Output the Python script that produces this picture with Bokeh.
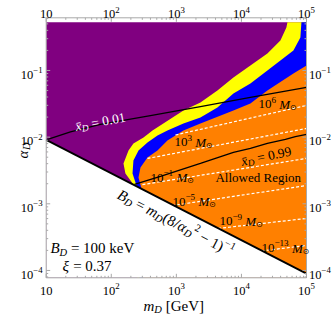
import math
from bokeh.plotting import figure
from bokeh.models import Label
from bokeh.embed import file_html
from bokeh.resources import INLINE

# ---------------- data ----------------
X_TICKS = [10, 100, 1000, 10000, 100000]
X_TICK_EXP = ["", "2", "3", "4", "5"]
Y_TICKS = [1e-4, 1e-3, 1e-2, 1e-1]
Y_TICK_EXP = ["\u22124", "\u22123", "\u22122", "\u22121"]

XMIN, XMAX = 10, 1e5
YMIN, YMAX = 7.76e-5, 0.617
FILL_TOP = 0.53

# B_D line (boundary of the white region)
BD_M = [10, 100000]
BD_A = [0.0091, 0.0000895]

# purple / yellow boundary
PY_M = [252, 219, 165, 154, 184, 219, 313, 430, 1285, 2344, 4276, 7534, 25060, 39720, 49090, 50930]
PY_A = [0.00158, 0.00195, 0.00285, 0.00403, 0.00631, 0.00804, 0.00989, 0.0126, 0.0251, 0.0331,
        0.0501, 0.0785, 0.180, 0.282, 0.442, 0.53]
# yellow / blue boundary
YB_M = [271, 244, 212, 219, 262, 360, 513, 729, 1285, 2344, 4276, 7534, 13740, 25060, 62950, 80540, 83560]
YB_A = [0.00158, 0.00188, 0.00285, 0.00447, 0.00631, 0.00832, 0.0106, 0.0126, 0.0160, 0.0197,
        0.0279, 0.0452, 0.0638, 0.100, 0.200, 0.313, 0.53]
# blue / orange boundary
BO_M = [313, 291, 262, 281, 360, 513, 729, 1285, 2344, 7534, 13740, 25060, 62950, 100000]
BO_A = [0.00148, 0.0017, 0.00248, 0.00351, 0.00495, 0.00631, 0.00891, 0.0126, 0.0160, 0.0251,
        0.0320, 0.0501, 0.0902, 0.119]

# xbar_D = 0.01 contour
X01_M = [10, 23.6, 68.2, 400, 2344, 13740, 100000]
X01_A = [0.0091, 0.01196, 0.0155, 0.0211, 0.0288, 0.0394, 0.0556]
# xbar_D = 0.99 contour
X99_M = [227, 570, 2344, 7534, 13740, 25060, 47400, 67400, 100000]
X99_A = [0.00195, 0.00257, 0.00403, 0.00589, 0.00676, 0.00804, 0.00923, 0.0102, 0.0110]

# mass contours (white dashed), exponents of M_sun
MASS_EXP = ["6", "3", "\u22121", "\u22125", "\u22129", "\u221213"]
MASS_M = [[968, 100000], [360, 100000], [301, 100000], [871, 100000], [4385, 100000], [20650, 100000]]
MASS_A = [[0.01078, 0.0299], [0.00479, 0.0135], [0.00194, 0.00479], [0.000944, 0.00188],
          [0.000427, 0.000603], [0.000197, 0.000237]]
MASS_LABEL_M = [18240, 935, 400, 871, 4592, 20280]
MASS_LABEL_A = [0.0309, 0.00832, 0.00248, 0.00108, 0.000543, 0.000214]

# ---------------- colours / layout ----------------
PURPLE = "#800080"
YELLOW = "#FFFF00"
BLUE = "#0000FF"
ORANGE = "#FF8000"
FRAME = "#a8a8a8"
SERIF = "Liberation Serif"
NB = "\u00a0"

W, H = 332, 316
FL, FR, FT, FB = 45.7, 306.0, 17.3, 277.3   # frame edges on the canvas (px)
kx = (FR - FL) / (math.log10(XMAX) - math.log10(XMIN))
ky = (FB - FT) / (math.log10(YMAX) - math.log10(YMIN))
VX = (10 ** (math.log10(XMIN) - FL / kx), 10 ** (math.log10(XMAX) + (W - FR) / kx))
VY = (10 ** (math.log10(YMIN) - (H - FB) / ky), 10 ** (math.log10(YMAX) + FT / ky))

p = figure(width=W, height=H, x_axis_type="log", y_axis_type="log",
           x_axis_location=None, y_axis_location=None,
           x_range=VX, y_range=VY, output_backend="svg",
           toolbar_location=None, title=None, min_border=0)
p.grid.visible = False
p.outline_line_color = None
p.background_fill_color = "white"
p.border_fill_color = "white"

LOW = YMIN
# regions
p.patch([XMIN, XMIN, XMAX, XMAX], [LOW, FILL_TOP, FILL_TOP, LOW], fill_color=PURPLE, line_color=None)
p.patch(PY_M + [XMAX, XMAX, PY_M[0]], PY_A + [FILL_TOP, LOW, LOW], fill_color=YELLOW, line_color=None)
p.patch(YB_M + [XMAX, XMAX, YB_M[0]], YB_A + [FILL_TOP, LOW, LOW], fill_color=BLUE, line_color=None)
p.patch(BO_M + [XMAX, BO_M[0]], BO_A + [LOW, LOW], fill_color=ORANGE, line_color=None)
p.patch([BD_M[0], BD_M[1], BD_M[1], BD_M[0]], [BD_A[0], BD_A[1], LOW, LOW], fill_color="white", line_color=None)

for mm, aa in zip(MASS_M, MASS_A):
    p.line(mm, aa, line_color="white", line_width=1.2, line_dash="3 2")
p.line(X01_M, X01_A, line_color="black", line_width=1.3)
p.line(X99_M, X99_A, line_color="black", line_width=1.3)
p.line(BD_M, BD_A, line_color="black", line_width=1.8)

# ---------------- frame with inner ticks ----------------
x_minor = [k * 10 ** e for e in range(1, 5) for k in range(2, 10)]
y_minor = [k * 10.0 ** e for e in range(-5, 0) for k in range(2, 10) if YMIN < k * 10.0 ** e < YMAX]
p.line([XMIN, XMAX, XMAX, XMIN, XMIN], [YMIN, YMIN, YMAX, YMAX, YMIN], line_color=FRAME, line_width=1)
for ticks, ln in [(X_TICKS, 4), (x_minor, 2)]:
    p.ray(x=ticks, y=[YMIN] * len(ticks), length=ln, angle=90, angle_units="deg",
          length_units="screen", line_color=FRAME, line_width=1)
    p.ray(x=ticks, y=[YMAX] * len(ticks), length=ln, angle=-90, angle_units="deg",
          length_units="screen", line_color=FRAME, line_width=1)
for ticks, ln in [(Y_TICKS, 4), (y_minor, 2)]:
    p.ray(x=[XMIN] * len(ticks), y=ticks, length=ln, angle=0, angle_units="deg",
          length_units="screen", line_color=FRAME, line_width=1)
    p.ray(x=[XMAX] * len(ticks), y=ticks, length=ln, angle=180, angle_units="deg",
          length_units="screen", line_color=FRAME, line_width=1)

# ---------------- rich text helper ----------------
CW = {' ': .25, NB: .25, '=': .564, '.': .25, '(': .333, ')': .333, '/': .278, '\u2212': .564,
      '-': .333, '[': .333, ']': .333, 'G': .722, 'e': .444, 'V': .722, 'k': .5, 'A': .722,
      'l': .278, 'o': .5, 'w': .722, 'd': .5, 'R': .667, 'g': .5, 'i': .278, 'n': .5, 'M': .833,
      'B': .611, 'D': .722, 'm': .722, 'x': .444, '\u03b1': .56, '\u03be': .46, '\u2299': .84,
      '\u0304': 0.0}


def tw(t, s):
    return sum(CW.get(c, 0.5) for c in t) * s


def R(t, s):
    return (t.replace(" ", NB), s, 0.0, "normal", SERIF)


def I(t, s):
    return (t, s, 0.0, "italic", SERIF)


def SUB(t, s):
    return (t, round(s * 0.7, 1), -0.25 * s, "italic", SERIF)


def SUP(t, s):
    return (t, round(s * 0.7, 1), 0.38 * s, "normal", SERIF)


def SUN(s):
    return ("\u2299", round(s * 0.6, 1), -0.22 * s, "normal", "DejaVu Sans")


def rich(x, y, pieces, angle=0.0, ox=0.0, oy=0.0, color="black", align="left"):
    th = math.radians(angle)
    widths = [tw(pc[0], pc[1]) for pc in pieces]
    total = sum(widths)
    d = {"left": 0.0, "center": -total / 2, "right": -total}[align]
    for (t, s, sh, st, font), w in zip(pieces, widths):
        dx = ox + d * math.cos(th) - sh * math.sin(th)
        dy = oy + d * math.sin(th) + sh * math.cos(th)
        p.add_layout(Label(x=x, y=y, text=t, x_offset=dx, y_offset=dy, angle=th,
                           text_font=font, text_font_size=f"{s}px", text_font_style=st,
                           text_color=color, text_baseline="alphabetic", text_align="left"))
        d += w


# tick labels
TS = 12.5
for v, e in zip(X_TICKS, X_TICK_EXP):
    pcs = [R("10", TS)] + ([SUP(e, TS)] if e else [])
    rich(v, YMIN, pcs, oy=-13, align="center")
    rich(v, YMAX, pcs, oy=3.5, align="center")
for v, e in zip(Y_TICKS, Y_TICK_EXP):
    pcs = [R("10", TS), SUP(e, TS)]
    rich(XMIN, v, pcs, ox=-3.5, oy=-4.2, align="right")
    rich(XMAX, v, pcs, ox=2.5, oy=-4.2, align="left")

# axis titles
rich(4.33, 0.00479, [I("\u03b1", 15), SUB("D", 15)], angle=90)
rich(313, YMIN, [I("m", 15), SUB("D", 15), R(" [GeV]", 15)], oy=-28)

# in-plot annotations
rich(28.2, 0.01445, [I("x\u0304", 13.5), SUB("D", 13.5), R(" = 0.01", 13.5)], angle=10.7, color="white")
rich(10000, 0.00431, [I("x\u0304", 13.5), SUB("D", 13.5), R(" = 0.99", 13.5)], angle=12)
rich(3990, 0.00248, [R("Allowed Region", 13)])
for e, lm, la in zip(MASS_EXP, MASS_LABEL_M, MASS_LABEL_A):
    rich(lm, la, [R("10", 13), SUP(e, 13), R(" ", 13), I("M", 13), SUN(13)])
rich(129, 0.00143, [I("B", 15), SUB("D", 15), R(" = ", 15), I("m", 15), SUB("D", 15),
                    R("(8/", 15), I("\u03b1", 15), SUB("D", 15), SUP("2", 15), R(" \u2212 1)", 15),
                    SUP("\u22121", 15)], angle=-27.3)
rich(11.6, 0.000214, [I("B", 15), SUB("D", 15), R(" = 100 keV", 15)])
rich(17.8, 0.000115, [I("\u03be", 15), R(" = 0.37", 15)])

open("out.html", "w").write(file_html(p, INLINE))
